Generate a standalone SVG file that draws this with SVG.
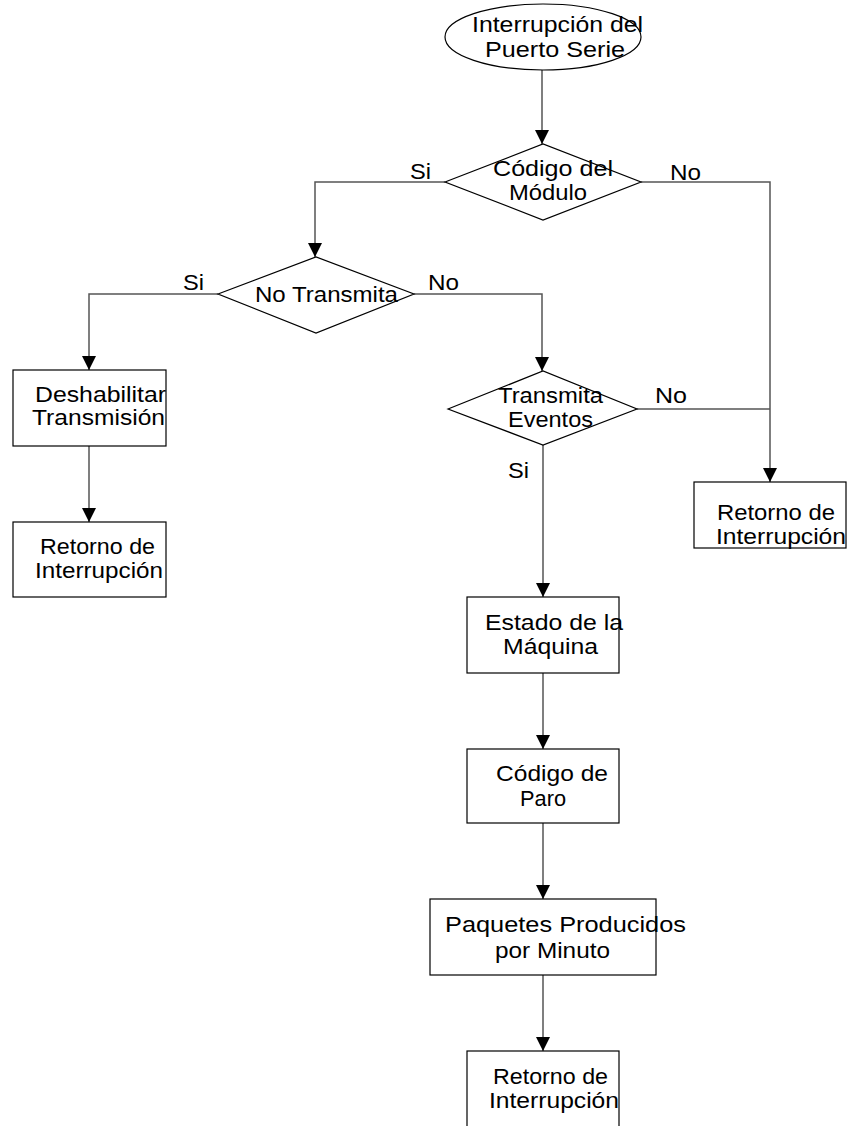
<svg xmlns="http://www.w3.org/2000/svg" width="851" height="1126" viewBox="0 0 851 1126">
  <style>
    .shape { fill: #ffffff; stroke: #000000; stroke-width: 1.2; }
    .wire { fill: none; stroke: #555555; stroke-width: 1.5; }
    .lbl { font-family: "Liberation Sans", Arial, sans-serif; font-size: 22px; fill: #000000; }
  </style>
  <defs>
    <marker id="arrow" markerUnits="userSpaceOnUse" markerWidth="14" markerHeight="14" refX="14" refY="7" orient="auto">
      <path d="M0,0 L14,7 L0,14 z" fill="#000000"/>
    </marker>
  </defs>
  <rect width="851" height="1126" fill="#ffffff"/>

  <!-- connectors -->
  <g id="connectors">
    <path class="wire" d="M542,70 L542,144" marker-end="url(#arrow)"/>
    <path class="wire" d="M445,182 L315,182 L315,257" marker-end="url(#arrow)"/>
    <path class="wire" d="M641,182 L770,182 L770,482" marker-end="url(#arrow)"/>
    <path class="wire" d="M218,294 L89,294 L89,370" marker-end="url(#arrow)"/>
    <path class="wire" d="M414,294 L542,294 L542,371" marker-end="url(#arrow)"/>
    <path class="wire" d="M637,409 L770,409"/>
    <path class="wire" d="M543,445 L543,597" marker-end="url(#arrow)"/>
    <path class="wire" d="M89,446 L89,522" marker-end="url(#arrow)"/>
    <path class="wire" d="M543,673 L543,749" marker-end="url(#arrow)"/>
    <path class="wire" d="M543,823 L543,899" marker-end="url(#arrow)"/>
    <path class="wire" d="M543,975 L543,1051" marker-end="url(#arrow)"/>
    <text class="lbl" x="410" y="179" textLength="21" lengthAdjust="spacingAndGlyphs">Si</text>
    <text class="lbl" x="670" y="180" textLength="31" lengthAdjust="spacingAndGlyphs">No</text>
    <text class="lbl" x="183" y="290" textLength="21" lengthAdjust="spacingAndGlyphs">Si</text>
    <text class="lbl" x="428" y="290" textLength="31" lengthAdjust="spacingAndGlyphs">No</text>
    <text class="lbl" x="655" y="403" textLength="32" lengthAdjust="spacingAndGlyphs">No</text>
    <text class="lbl" x="508" y="478" textLength="21" lengthAdjust="spacingAndGlyphs">Si</text>
  </g>

  <!-- start terminal -->
  <g id="start">
    <ellipse class="shape" cx="543" cy="37" rx="98" ry="33"/>
    <text class="lbl" x="472" y="32" textLength="171" lengthAdjust="spacingAndGlyphs">Interrupción del</text>
    <text class="lbl" x="485" y="57" textLength="140" lengthAdjust="spacingAndGlyphs">Puerto Serie</text>
  </g>

  <g id="codigo-modulo">
    <polygon class="shape" points="445,182 543,144 641,182 543,220"/>
    <text class="lbl" x="493" y="176" textLength="120" lengthAdjust="spacingAndGlyphs">Código del</text>
    <text class="lbl" x="509" y="200" textLength="78" lengthAdjust="spacingAndGlyphs">Módulo</text>
  </g>

  <g id="no-transmita">
    <polygon class="shape" points="218,294 316,257 414,294 316,333"/>
    <text class="lbl" x="255" y="302" textLength="143" lengthAdjust="spacingAndGlyphs">No Transmita</text>
  </g>

  <g id="deshabilitar">
    <rect class="shape" x="13" y="370" width="153" height="76"/>
    <text class="lbl" x="35" y="402" textLength="131" lengthAdjust="spacingAndGlyphs">Deshabilitar</text>
    <text class="lbl" x="32" y="425" textLength="133" lengthAdjust="spacingAndGlyphs">Transmisión</text>
  </g>

  <g id="retorno-izq">
    <rect class="shape" x="13" y="522" width="153" height="75"/>
    <text class="lbl" x="40" y="554" textLength="115" lengthAdjust="spacingAndGlyphs">Retorno de</text>
    <text class="lbl" x="35" y="578" textLength="128" lengthAdjust="spacingAndGlyphs">Interrupción</text>
  </g>

  <g id="transmita-eventos">
    <polygon class="shape" points="448,409 543,371 637,409 543,445"/>
    <text class="lbl" x="498" y="403" textLength="105" lengthAdjust="spacingAndGlyphs">Transmita</text>
    <text class="lbl" x="508" y="427" textLength="85" lengthAdjust="spacingAndGlyphs">Eventos</text>
  </g>

  <g id="retorno-der">
    <rect class="shape" x="694" y="482" width="152" height="66"/>
    <text class="lbl" x="717" y="520" textLength="118" lengthAdjust="spacingAndGlyphs">Retorno de</text>
    <text class="lbl" x="716" y="544" textLength="130" lengthAdjust="spacingAndGlyphs">Interrupción</text>
  </g>

  <g id="estado-maquina">
    <rect class="shape" x="467" y="597" width="152" height="76"/>
    <text class="lbl" x="485" y="630" textLength="138" lengthAdjust="spacingAndGlyphs">Estado de la</text>
    <text class="lbl" x="503" y="654" textLength="95" lengthAdjust="spacingAndGlyphs">Máquina</text>
  </g>

  <g id="codigo-paro">
    <rect class="shape" x="467" y="749" width="152" height="74"/>
    <text class="lbl" x="496" y="781" textLength="112" lengthAdjust="spacingAndGlyphs">Código de</text>
    <text class="lbl" x="520" y="806" textLength="46" lengthAdjust="spacingAndGlyphs">Paro</text>
  </g>

  <g id="paquetes">
    <rect class="shape" x="430" y="899" width="226" height="76"/>
    <text class="lbl" x="445" y="932" textLength="241" lengthAdjust="spacingAndGlyphs">Paquetes Producidos</text>
    <text class="lbl" x="495" y="958" textLength="115" lengthAdjust="spacingAndGlyphs">por Minuto</text>
  </g>

  <g id="retorno-final">
    <rect class="shape" x="467" y="1051" width="152" height="90"/>
    <text class="lbl" x="493" y="1084" textLength="115" lengthAdjust="spacingAndGlyphs">Retorno de</text>
    <text class="lbl" x="489" y="1108" textLength="130" lengthAdjust="spacingAndGlyphs">Interrupción</text>
  </g>
</svg>
